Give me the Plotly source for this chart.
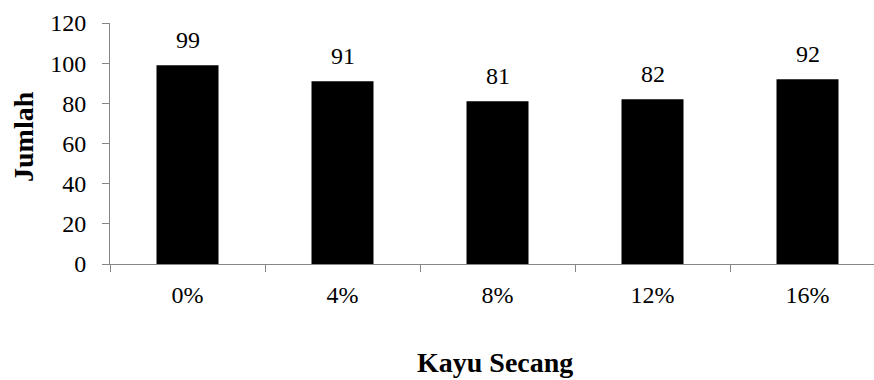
import plotly.graph_objects as go

# Data
categories = ["0%", "4%", "8%", "12%", "16%"]
values = [99, 91, 81, 82, 92]
y_ticks = [0, 20, 40, 60, 80, 100, 120]

FONT = "Liberation Serif, Times New Roman, serif"
AXIS_GREY = "#868686"
TICK_SIZE = 24
TITLE_SIZE = 28

W, H = 874, 380
ML, MR, MT, MB = 110, 0, 23, 116
cat_px = 155  # pixel width of one category slot
x_hi = -0.5 + (W - ML - MR) / cat_px

fig = go.Figure()
fig.add_trace(go.Bar(
    x=categories,
    y=values,
    width=0.4,
    marker=dict(color="#000000", line=dict(width=0)),
    hoverinfo="x+y",
))

# value labels above each bar
for c, v in zip(categories, values):
    fig.add_annotation(
        x=c, y=v, text=str(v), showarrow=False,
        yanchor="middle", yshift=25,
        font=dict(family=FONT, size=TICK_SIZE, color="#000000"),
    )

# axis titles
fig.add_annotation(
    x=(495 - ML) / (W - ML - MR), y=(H - 362 - MB) / (H - MT - MB),
    xref="paper", yref="paper", text="<b>Kayu Secang</b>", showarrow=False,
    xanchor="center", yanchor="middle",
    font=dict(family=FONT, size=TITLE_SIZE, color="#000000"),
)
fig.add_annotation(
    x=(23 - ML) / (W - ML - MR), y=(H - 137 - MB) / (H - MT - MB),
    xref="paper", yref="paper", text="<b>Jumlah</b>", showarrow=False,
    textangle=-90, xanchor="center", yanchor="middle",
    font=dict(family=FONT, size=TITLE_SIZE, color="#000000"),
)

fig.update_layout(
    width=W, height=H,
    margin=dict(l=ML, r=MR, t=MT, b=MB),
    paper_bgcolor="white", plot_bgcolor="white",
    showlegend=False,
    font=dict(family=FONT, size=TICK_SIZE, color="#000000"),
    xaxis=dict(
        type="category",
        range=[-0.5, x_hi],
        showgrid=False, zeroline=False,
        showline=True, linecolor=AXIS_GREY, linewidth=1,
        ticks="outside", tickson="boundaries", ticklen=7,
        tickcolor=AXIS_GREY, tickwidth=1,
        ticklabelstandoff=9,
        tickfont=dict(family=FONT, size=TICK_SIZE, color="#000000"),
    ),
    yaxis=dict(
        range=[0, 120],
        tickvals=y_ticks,
        showgrid=False, zeroline=False,
        showline=True, linecolor=AXIS_GREY, linewidth=1,
        ticks="outside", ticklen=7,
        tickcolor=AXIS_GREY, tickwidth=1,
        ticklabelstandoff=11,
        tickfont=dict(family=FONT, size=TICK_SIZE, color="#000000"),
    ),
)

fig.write_html("out.html")
